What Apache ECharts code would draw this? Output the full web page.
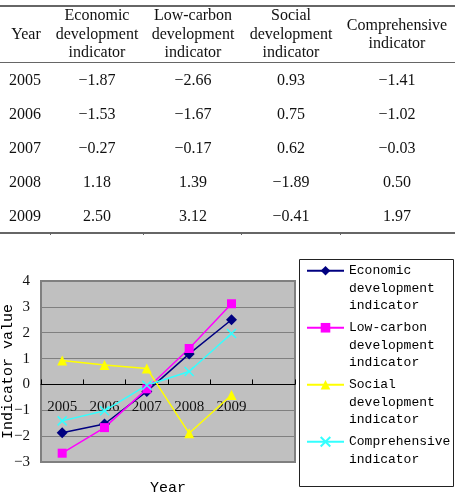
<!DOCTYPE html>
<html>
<head>
<meta charset="utf-8">
<script src="https://cdn.jsdelivr.net/npm/echarts@6/dist/echarts.min.js"></script>
<style>
  html, body { margin: 0; padding: 0; background: #fff; }
  #wrap { position: relative; width: 458px; height: 492px; overflow: hidden; }
  #chart { position: absolute; left: 0; top: 0; width: 458px; height: 492px; }
  #table {
    position: absolute; left: 0; top: 0; width: 458px; height: 240px;
    font-family: 'Liberation Serif', 'Times New Roman', serif; font-size: 16px; color: #111;
  }
  .cell { position: absolute; text-align: center; white-space: nowrap; transform: translateX(-50%); line-height: 18.5px; }
  .rule { position: absolute; left: 0; width: 455px; background: #666; }
</style>
</head>
<body>
<div id="wrap">
  <div id="chart"></div>
  <div id="table"></div>
</div>
<script>
// table + chart data
const years = ['2005', '2006', '2007', '2008', '2009'];
const economic = [-1.87, -1.53, -0.27, 1.18, 2.50];
const lowCarbon = [-2.66, -1.67, -0.17, 1.39, 3.12];
const social = [0.93, 0.75, 0.62, -1.89, -0.41];
const comprehensive = [-1.41, -1.02, -0.03, 0.50, 1.97];
const yTicks = [-3, -2, -1, 0, 1, 2, 3, 4];

const headers = ['Year', 'Economic\ndevelopment\nindicator', 'Low-carbon\ndevelopment\nindicator',
  'Social\ndevelopment\nindicator', 'Comprehensive\nindicator'];
const seriesNames = ['Economic development indicator', 'Low-carbon development indicator',
  'Social development indicator', 'Comprehensive indicator'];
const legendLabels = ['Economic\ndevelopment\nindicator', 'Low-carbon\ndevelopment\nindicator',
  'Social\ndevelopment\nindicator', 'Comprehensive\nindicator'];

const minus = s => String(s).replace('-', '\u2212');

// ---- table ----
const table = document.getElementById('table');
const colX = [26, 97, 193, 291, 397];
const rowY = [80, 114, 148, 182, 216];

function addCell(text, x, top) {
  const d = document.createElement('div');
  d.className = 'cell';
  d.style.left = x + 'px';
  d.style.top = top + 'px';
  d.innerHTML = text.split('\n').join('<br>');
  table.appendChild(d);
}
headers.forEach((h, i) => {
  const n = h.split('\n').length;
  addCell(h, colX[i], 34 - n * 9.25);
});
const cols = [economic, lowCarbon, social, comprehensive];
years.forEach((y, r) => {
  addCell(y, colX[0] - 1, rowY[r] - 9.25);
  cols.forEach((c, i) => addCell(minus(c[r].toFixed(2)), colX[i + 1], rowY[r] - 9.25));
});
function addRule(top, h, left, w) {
  const d = document.createElement('div');
  d.className = 'rule';
  d.style.top = top + 'px';
  d.style.height = h + 'px';
  if (left !== undefined) { d.style.left = left + 'px'; d.style.width = w + 'px'; }
  table.appendChild(d);
}
addRule(5, 1.5);
addRule(61.5, 1);
addRule(231.5, 2);
[50, 143, 241, 340].forEach(x => addRule(233, 1.5, x, 1));

// ---- chart ----
const chart = echarts.init(document.getElementById('chart'));

// leading blank lines keep the legend icon level with the first text line
const padLabel = s => {
  const n = s.split('\n').length;
  return '\n\n' + s + (n < 3 ? '\n' : '');
};

const option = {
  animation: false,
  grid: {
    left: 41, right: 163, top: 281, bottom: 30,
    outerBoundsMode: 'none',
    containLabel: false,
    show: true, backgroundColor: '#c0c0c0', borderColor: '#808080', borderWidth: 2
  },
  legend: {
    orient: 'vertical',
    left: 306,
    top: 227,
    padding: 0,
    itemGap: -30.5,
    itemWidth: 37,
    itemHeight: 12,
    data: seriesNames,
    formatter: name => padLabel(legendLabels[seriesNames.indexOf(name)]),
    textStyle: { fontFamily: 'Liberation Mono', fontSize: 13, lineHeight: 17.5, color: '#000' }
  },
  graphic: [{
    type: 'rect',
    shape: { x: 299.5, y: 259.5, width: 154, height: 227 },
    style: { fill: 'none', stroke: '#222', lineWidth: 1 },
    z: 0
  }],
  xAxis: {
    type: 'category',
    data: years.concat(['']),
    boundaryGap: true,
    name: 'Year',
    nameLocation: 'middle',
    nameGap: 19,
    nameMoveOverlap: false,
    nameTextStyle: { fontFamily: 'Liberation Mono', fontSize: 15, color: '#000' },
    axisLine: { onZero: true, lineStyle: { color: '#000', width: 1 } },
    axisTick: { show: true, inside: true, length: 5, lineStyle: { color: '#000' } },
    axisLabel: {
      interval: 0, margin: -62,
      fontFamily: 'Liberation Serif', fontSize: 15, color: '#111'
    },
    splitLine: { show: false }
  },
  yAxis: {
    type: 'value',
    min: yTicks[0],
    max: yTicks[yTicks.length - 1],
    interval: 1,
    name: 'Indicator value',
    nameLocation: 'middle',
    nameRotate: 90,
    nameGap: 25,
    nameMoveOverlap: false,
    nameTextStyle: { fontFamily: 'Liberation Mono', fontSize: 15, color: '#000' },
    axisLine: { show: false },
    axisTick: { show: false },
    axisLabel: {
      margin: 11, formatter: v => minus(v),
      fontFamily: 'Liberation Serif', fontSize: 15, color: '#111'
    },
    splitLine: { show: true, lineStyle: { color: '#808080', width: 1 } }
  },
  series: [
    {
      name: seriesNames[0], type: 'line', data: economic,
      symbol: 'diamond', symbolSize: 11,
      lineStyle: { color: '#000080', width: 1.5 },
      itemStyle: { color: '#000080' }
    },
    {
      name: seriesNames[1], type: 'line', data: lowCarbon,
      symbol: 'rect', symbolSize: 9,
      lineStyle: { color: '#ff00ff', width: 1.5 },
      itemStyle: { color: '#ff00ff' }
    },
    {
      name: seriesNames[2], type: 'line', data: social,
      symbol: 'triangle', symbolSize: 10,
      lineStyle: { color: '#ffff00', width: 1.5 },
      itemStyle: { color: '#ffff00' }
    },
    {
      name: seriesNames[3], type: 'line', data: comprehensive,
      symbol: 'path://M0,0L10,10M10,0L0,10', symbolSize: 9,
      lineStyle: { color: '#33ffff', width: 1.5 },
      itemStyle: { color: '#33ffff', borderColor: '#33ffff', borderWidth: 1.5 }
    }
  ]
};

chart.setOption(option);
</script>
</body>
</html>
